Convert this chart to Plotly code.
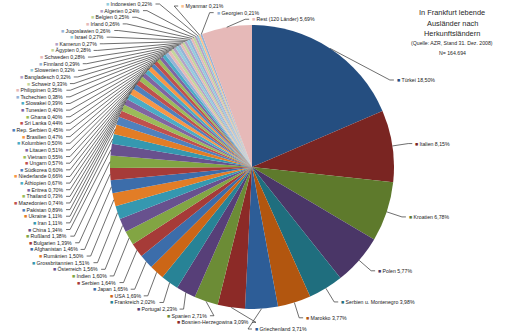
import math
import plotly.graph_objects as go

countries = ["Türkei", "Italien", "Kroatien", "Polen", "Serbien u. Montenegro", "Marokko",
             "Griechenland", "Bosnien-Herzegowina", "Spanien", "Portugal", "Frankreich", "USA",
             "Japan", "Serbien", "Indien", "Österreich", "Grossbritannien", "Rumänien",
             "Afghanistan", "Bulgarien", "Rußland", "China", "Iran", "Ukraine",
             "Pakistan", "Mazedonien", "Thailand", "Eritrea", "Äthiopien", "Niederlande",
             "Südkorea", "Ungarn", "Vietnam", "Litauen", "Kolumbien", "Brasilien",
             "Rep. Serbien", "Sri Lanka", "Ghana", "Tunesien", "Slowakei", "Tschechien",
             "Philippinen", "Schweiz", "Bangladesch", "Slowenien", "Finnland", "Schweden",
             "Ägypten", "Kamerun", "Israel", "Jugoslawien", "Irland", "Belgien",
             "Algerien", "Indonesien", "Myanmar", "Georgien", "Rest (120 Länder)"]
shares = [18.50, 8.15, 6.78, 5.77, 3.98, 3.77,
          3.71, 3.09, 2.71, 2.23, 2.02, 1.69,
          1.65, 1.64, 1.60, 1.56, 1.51, 1.50,
          1.46, 1.39, 1.38, 1.34, 1.11, 1.11,
          0.89, 0.74, 0.73, 0.70, 0.67, 0.66,
          0.60, 0.57, 0.55, 0.51, 0.50, 0.47,
          0.45, 0.44, 0.40, 0.40, 0.39, 0.38,
          0.35, 0.33, 0.32, 0.32, 0.29, 0.28,
          0.28, 0.27, 0.27, 0.26, 0.26, 0.25,
          0.24, 0.22, 0.21, 0.21, 5.69]
title_lines = ["In Frankfurt lebende", "Ausländer nach", "Herkunftsländern"]
sub_lines = ["(Quelle: AZR, Stand 31. Dez. 2008)", "N= 164.694"]

# ---- styles ----
families = list("BRGPTO" * 7)[:41] + list("BRGPTBRGPTBRGPTOBR")
pal = {
    "dark0": {"B": "#254E80", "R": "#7A2522", "G": "#5E7A2C", "P": "#4A3667", "T": "#1F6E7E", "O": "#B2560F"},
    "dark1": {"B": "#2D5D97", "R": "#8C2A27", "G": "#6C8C36", "P": "#573F78", "T": "#288396", "O": "#CC6616"},
    "med":   {"B": "#3C6DAA", "R": "#A63B38", "G": "#82A543", "P": "#68518E", "T": "#3598B0", "O": "#E27D26"},
    "base":  {"B": "#4F81BD", "R": "#C0504D", "G": "#9BBB59", "P": "#8064A2", "T": "#4BACC6", "O": "#F79646"},
    "light": {"B": "#95B3D7", "R": "#E6B9B8", "G": "#C3D69B", "P": "#B3A2C7", "T": "#93CDDD", "O": "#FAC090"},
}
colors = []
for i, f in enumerate(families):
    if i < 6:
        s = "dark0"
    elif i < 12:
        s = "dark1"
    elif i < 24:
        s = "med"
    elif i < 41:
        s = "base"
    else:
        s = "light"
    colors.append(pal[s][f])

W, H = 513, 336
cx, cy, R = 252, 167, 142

def px(x):
    return x / W

def py(y):
    return 1 - y / H

fig = go.Figure(go.Pie(
    labels=countries, values=shares, sort=False, direction="clockwise", rotation=0,
    marker=dict(colors=colors, line=dict(width=0)),
    textinfo="none", hoverinfo="label+percent", showlegend=False,
    domain=dict(x=[px(cx - R), px(cx + R)], y=[py(cy + R), py(cy - R)]),
))

total = sum(shares)
mids = []
acc = 0.0
for s in shares:
    mids.append((acc + s / 2) / total * 360.0)
    acc += s

LINE = "#303030"
FONT = dict(family="Liberation Sans, Arial, sans-serif", size=5.2, color="#1a1a1a")
shapes = []
annots = []

def fmt(v):
    return ("%.2f" % v).replace(".", ",") + "%"

def add_label(i, lx, ly, align_left, ex, ey):
    if align_left:
        path = f"M {px(ex)},{py(ey)} L {px(lx - 4)},{py(ly)} L {px(lx)},{py(ly)}"
        xa, tx = "left", lx + 1
    else:
        path = f"M {px(ex)},{py(ey)} L {px(lx + 4)},{py(ly)} L {px(lx)},{py(ly)}"
        xa, tx = "right", lx - 1
    shapes.append(dict(type="path", path=path, xref="paper", yref="paper",
                       line=dict(color=LINE, width=0.7)))
    txt = f"<span style='color:{colors[i]}'>■</span> {countries[i]} {fmt(shares[i])}"
    annots.append(dict(x=px(tx), y=py(ly), xref="paper", yref="paper", text=txt,
                       showarrow=False, xanchor=xa, yanchor="middle", font=FONT))

stack = [i for i, t in enumerate(mids) if 170 <= t < 338]
top = [i for i, t in enumerate(mids) if t >= 338]
right = [i for i, t in enumerate(mids) if t < 170]

title_bottom = 62
for i in right:
    t = math.radians(mids[i])
    ex, ey = cx + R * math.sin(t), cy - R * math.cos(t)
    lx = ex + 16 * math.sin(t) + 4
    ly = ey - 16 * math.cos(t)
    if ly < title_bottom + 18:
        ly = title_bottom + 18
        lx = cx + math.sqrt((R + 16) ** 2 - (ly - cy) ** 2) + 10
    add_label(i, lx, ly, True, ex, ey)

y_bot, y_top = cy + R + 20, cy - R - 21
n = len(stack)
step = (y_bot - y_top) / (n - 1)
a_ell, b_low, b_up = 204.0, 152.0, 185.0
for k, i in enumerate(stack):
    t = math.radians(mids[i])
    ex, ey = cx + R * math.sin(t), cy - R * math.cos(t)
    ly = y_bot - k * step
    dy = ly - cy
    b = b_low if dy > 0 else b_up
    q = 1 - (dy / b) ** 2
    dx = a_ell * math.sqrt(q) if q > 0 else 0.0
    dx = min(dx, 186)
    lx = cx - dx
    add_label(i, lx, ly, mids[i] < 180, ex, ey)

for k, i in enumerate(top):
    t = math.radians(mids[i])
    ex, ey = cx + R * math.sin(t), cy - R * math.cos(t)
    ly = y_top + 2 + k * step
    lx = cx - 0.52 * R + 0.25 * R * k
    add_label(i, lx, ly, True, ex, ey)

# titles
tcx = 452
for j, (t, yy) in enumerate(zip(title_lines, [13, 23.5, 34])):
    annots.append(dict(x=px(tcx), y=py(yy), xref="paper", yref="paper", text=t,
                       showarrow=False, xanchor="center", yanchor="middle",
                       font=dict(family="Liberation Sans, Arial, sans-serif", size=7.4, color="#262626")))
for t, yy in zip(sub_lines, [43.5, 52.5]):
    annots.append(dict(x=px(tcx), y=py(yy), xref="paper", yref="paper", text=t,
                       showarrow=False, xanchor="center", yanchor="middle",
                       font=dict(family="Liberation Sans, Arial, sans-serif", size=5.2, color="#262626")))

fig.update_layout(width=W, height=H, margin=dict(l=0, r=0, t=0, b=0),
                  paper_bgcolor="white", plot_bgcolor="white",
                  shapes=shapes, annotations=annots)
fig.write_html("out.html")
